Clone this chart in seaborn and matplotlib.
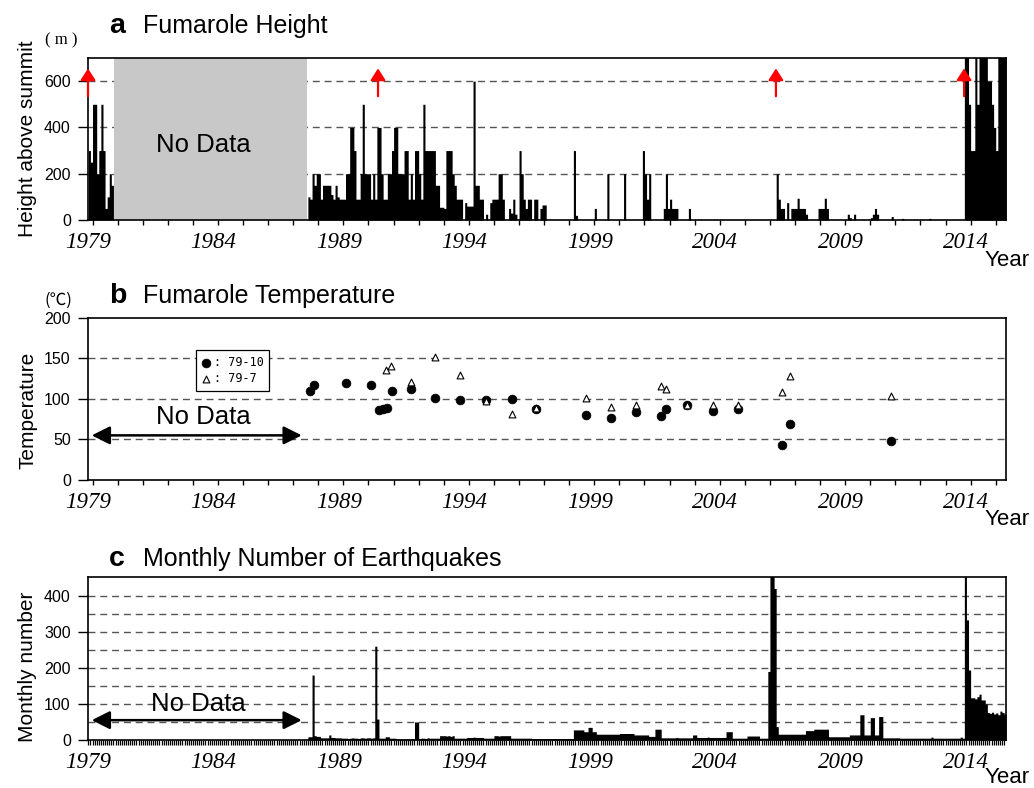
import numpy as np
import pandas as pd
import matplotlib
matplotlib.use("Agg")
import matplotlib.pyplot as plt
import seaborn as sns

# ---------------- data ----------------
# eruptions (decimal year) marked with red arrows in panel a
eruption_years = [1979.82, 1991.38, 2007.24, 2014.74]

# period without fumarole height observations (grey box)
gap_start, gap_end = 1980.86, 1988.55

# panel a : monthly max fumarole height above summit (m)
height_early_start = (1979, 11)          # Nov 1979 .. Oct 1980
height_early = [300, 250, 500, 500, 200, 300, 500, 300, 50, 100, 200, 150]

height_start = (1988, 8)                 # Aug 1988 .. May 2016
height_monthly = [
    100, 90, 200, 150, 200,                                       # 1988 Aug-Dec
    200, 90, 150, 150, 150, 150, 110, 90, 150, 100, 90, 90,       # 1989
    90, 200, 200, 400, 400, 300, 90, 90, 200, 500, 200, 200,      # 1990
    200, 90, 200, 90, 400, 400, 200, 90, 90, 200, 200, 300,       # 1991
    400, 400, 200, 200, 200, 300, 300, 90, 200, 90, 300, 300,     # 1992
    200, 90, 500, 300, 300, 300, 300, 300, 150, 150, 55, 55,      # 1993
    50, 300, 300, 300, 200, 150, 90, 90, 90, 0, 75, 60,           # 1994
    60, 60, 600, 150, 150, 90, 90, 0, 25, 0, 75, 90,              # 1995
    90, 90, 200, 200, 90, 0, 0, 50, 30, 90, 25, 0,                # 1996
    300, 200, 90, 50, 90, 90, 0, 90, 90, 0, 50, 65,               # 1997
    65, 0, 0, 0, 0, 0, 0, 0, 0, 0, 0, 0,                          # 1998
    0, 0, 300, 20, 0, 0, 0, 0, 0, 0, 0, 0,                        # 1999
    50, 0, 0, 0, 0, 0, 200, 0, 0, 0, 0, 0,                        # 2000
    0, 0, 200, 0, 0, 0, 0, 0, 0, 0, 0, 300,                       # 2001
    200, 90, 200, 0, 0, 0, 0, 0, 0, 50, 200, 50,                  # 2002
    90, 50, 50, 50, 0, 0, 0, 0, 0, 50, 0, 0,                      # 2003
    0, 0, 0, 0, 0, 0, 0, 0, 0, 0, 0, 0,                           # 2004
    0, 0, 0, 0, 0, 0, 0, 0, 0, 0, 0, 0,                           # 2005
    0, 0, 0, 0, 0, 0, 0, 0, 0, 0, 0, 0,                           # 2006
    0, 0, 0, 200, 90, 50, 50, 0, 75, 0, 50, 50,                   # 2007
    50, 94, 50, 50, 50, 25, 0, 0, 0, 0, 0, 50,                    # 2008
    50, 50, 94, 50, 0, 0, 0, 0, 0, 0, 0, 0,                       # 2009
    0, 25, 10, 0, 25, 0, 0, 0, 0, 0, 0, 0,                        # 2010
    10, 25, 50, 25, 0, 0, 0, 0, 0, 0, 15, 0,                      # 2011
    0, 0, 0, 7, 0, 0, 0, 0, 0, 0, 0, 0,                           # 2012
    0, 0, 0, 0, 7, 0, 0, 0, 0, 0, 0, 0,                           # 2013
    0, 0, 0, 0, 0, 0, 0, 0, 0, 800, 800, 500,                     # 2014
    300, 300, 800, 500, 800, 800, 800, 800, 600, 600, 500, 400,   # 2015
    300, 800, 800, 800, 800,                                      # 2016 Jan-May
]

# panel b : fumarole temperature (deg C)
temp_years_79_10 = [1988.67, 1988.83, 1990.09, 1991.10, 1991.43, 1991.59, 1991.75,
                    1991.94, 1992.69, 1993.65, 1994.66, 1995.68, 1996.71, 1997.66,
                    1999.67, 2000.65, 2001.67, 2002.65, 2002.85, 2003.69, 2004.73,
                    2005.73, 2007.48, 2007.80, 2011.82]
temp_79_10 = [110, 117, 120, 117, 86, 88, 89, 110, 112, 101, 99, 99, 100, 88,
              80, 76, 84, 79, 87, 93, 85, 88, 43, 69, 48]
temp_years_79_7 = [1991.69, 1991.90, 1992.69, 1993.64, 1994.65, 1995.68, 1996.71,
                   1997.66, 1999.67, 2000.65, 2001.67, 2002.65, 2002.85, 2003.69,
                   2004.73, 2005.73, 2007.48, 2007.80, 2011.82]
temp_79_7 = [135, 140, 121, 151, 129, 97, 81, 89, 101, 90, 93, 116, 112, 92,
             92, 93, 108, 128, 103]

# panel c : monthly number of earthquakes
quake_start = (1988, 8)                  # Aug 1988 .. May 2016
quake_monthly = [
    9, 9, 180, 12, 10,                                            # 1988 Aug-Dec
    10, 6, 6, 6, 6, 14, 7, 7, 6, 6, 6, 5,                         # 1989
    5, 5, 4, 5, 6, 5, 5, 4, 6, 6, 5, 6,                           # 1990
    6, 5, 6, 260, 58, 5, 5, 5, 9, 9, 5, 5,                        # 1991
    5, 3, 3, 3, 2, 3, 3, 3, 3, 3, 50, 50,                         # 1992
    4, 5, 5, 4, 6, 5, 5, 5, 5, 5, 12, 12,                         # 1993
    12, 11, 12, 10, 12, 5, 5, 5, 5, 5, 5, 7,                      # 1994
    7, 7, 8, 7, 7, 7, 7, 5, 5, 5, 5, 5,                           # 1995
    12, 12, 11, 12, 12, 12, 12, 12, 5, 5, 5, 5,                   # 1996
    5, 5, 5, 5, 5, 5, 4, 4, 4, 4, 4, 4,                           # 1997
    4, 4, 4, 4, 4, 4, 4, 4, 4, 4, 4, 4,                           # 1998
    4, 4, 28, 28, 28, 28, 28, 23, 23, 35, 35, 23,                 # 1999
    23, 16, 16, 16, 16, 16, 16, 16, 16, 16, 16, 16,               # 2000
    18, 18, 18, 18, 18, 18, 18, 14, 14, 14, 14, 14,               # 2001
    14, 14, 10, 10, 10, 30, 30, 30, 6, 6, 6, 6,                   # 2002
    6, 6, 6, 7, 6, 6, 6, 6, 6, 6, 6, 14,                          # 2003
    14, 7, 7, 7, 7, 7, 8, 7, 7, 7, 7, 7,                          # 2004
    7, 7, 7, 23, 23, 23, 5, 5, 5, 5, 5, 5,                        # 2005
    5, 11, 11, 11, 11, 11, 11, 5, 5, 5, 5, 190,                   # 2006
    460, 460, 420, 37, 16, 16, 16, 16, 16, 16, 16, 16,            # 2007
    16, 16, 16, 16, 16, 26, 26, 26, 26, 30, 30, 30,               # 2008
    30, 30, 30, 30, 9, 9, 9, 9, 9, 9, 9, 9,                       # 2009
    9, 9, 14, 14, 14, 14, 14, 70, 70, 14, 14, 14,                 # 2010
    62, 62, 14, 14, 65, 65, 6, 6, 6, 6, 6, 6,                     # 2011
    6, 6, 5, 5, 5, 5, 5, 5, 5, 5, 5, 5,                           # 2012
    5, 5, 5, 5, 5, 8, 5, 5, 5, 5, 5, 5,                           # 2013
    5, 5, 5, 5, 5, 5, 5, 8, 5, 460, 333, 194,                     # 2014
    117, 117, 114, 120, 127, 111, 111, 100, 76, 74, 77, 72,       # 2015
    75, 70, 80, 76, 72,                                           # 2016 Jan-May
]

label_years = [1979, 1984, 1989, 1994, 1999, 2004, 2009, 2014]
assert len(height_monthly) == 334 and len(quake_monthly) == 334


def monthly_frame(start, values, col):
    y, m = start
    first = y + (m - 1) / 12
    centers = first + (np.arange(len(values)) + 0.5) / 12
    return pd.DataFrame({"year": centers, col: values})


df_height = pd.concat([monthly_frame(height_early_start, height_early, "height"),
                       monthly_frame(height_start, height_monthly, "height")],
                      ignore_index=True)
df_quake = monthly_frame(quake_start, quake_monthly, "count")
df_t10 = pd.DataFrame({"year": temp_years_79_10, "temp": temp_79_10})
df_t7 = pd.DataFrame({"year": temp_years_79_7, "temp": temp_79_7})

# ---------------- style ----------------
sns.set_style("ticks")
plt.rcParams["font.family"] = ["Liberation Sans", "DejaVu Sans"]
plt.rcParams.update({"axes.linewidth": 1.2, "axes.edgecolor": "black",
                     "text.color": "black", "axes.labelcolor": "black",
                     "xtick.color": "black", "ytick.color": "black"})

W, H = 1034, 788
fig = plt.figure(figsize=(W / 100, H / 100), dpi=100)


def px_axes(left, top, right, bottom):
    return fig.add_axes([left / W, 1 - bottom / H, (right - left) / W, (bottom - top) / H])


ax_a = px_axes(87.5, 58, 1005.5, 220)
ax_b = px_axes(87.5, 317.7, 1005.5, 480)
ax_c = px_axes(87.5, 577.3, 1005.5, 740)

x_lo, x_hi = 1979.80, 2016.39
grid_kw = dict(color="#555555", lw=1.0, dashes=(5, 3.5), zorder=1)


def time_axis(ax, monthly=False):
    ax.set_xlim(x_lo, x_hi)
    ax.set_xticks([y + 0.82 for y in label_years])
    ax.set_xticklabels([str(y) for y in label_years], fontfamily="Liberation Serif",
                       fontstyle="italic", fontsize=16.5)
    ax.tick_params(axis="x", which="major", length=0, pad=8.5)
    if monthly:
        ax.set_xticks(np.arange(1979 * 12 + 10, 2016 * 12 + 5) / 12, minor=True)
        ax.tick_params(axis="x", which="minor", length=3.6, width=0.9, direction="out")
    else:
        ax.set_xticks(np.arange(1980, 2017), minor=True)
        ax.tick_params(axis="x", which="minor", length=3.8, width=1, direction="out")
    ax.tick_params(axis="y", length=7, width=1, pad=5, labelsize=11.5, direction="out")
    ax.set_xlabel("")
    for s in ax.spines.values():
        s.set_visible(True)
        s.set_color("black")
        s.set_linewidth(1.2)


# ---- panel a ----
bins_a = list(np.linspace(1979 + 10 / 12, 2016 + 5 / 12, 440))
sns.histplot(data=df_height, x="year", weights="height", bins=bins_a, element="step",
             fill=True, color="black", alpha=1, linewidth=0, ax=ax_a, zorder=3)
for v in [200, 400, 600]:
    ax_a.axhline(v, **grid_kw)
ax_a.axvspan(gap_start, gap_end, color="#c8c8c8", lw=0, zorder=2)
ax_a.text((gap_start + gap_end) / 2 - 0.3, 325, "No Data", ha="center", va="center",
          fontsize=18.5, zorder=4)
for yr in eruption_years:
    ax_a.annotate("", xy=(yr, 655), xytext=(yr, 535), annotation_clip=False,
                  arrowprops=dict(arrowstyle="-|>,head_length=0.7,head_width=0.45",
                                  color="red", lw=1.6, shrinkA=0, shrinkB=0), zorder=6)
ax_a.set_ylim(0, 700)
ax_a.set_yticks([0, 200, 400, 600])
time_axis(ax_a)
ax_a.set_ylabel("Height above summit", fontsize=15)
ax_a.yaxis.set_label_coords(-0.0545, 0.5)

# ---- panel b ----
for v in [50, 100, 150]:
    ax_b.axhline(v, **grid_kw)
sns.scatterplot(data=df_t10, x="year", y="temp", marker="o", color="black", s=40,
                edgecolor="black", linewidth=0.5, label=": 79-10", ax=ax_b, zorder=3)
sns.scatterplot(data=df_t7, x="year", y="temp", marker="^", color="white", s=24,
                edgecolor="black", linewidth=0.8, label=": 79-7", ax=ax_b, zorder=4)
ax_b.annotate("", xy=(1979.97, 55), xytext=(1988.34, 55),
              arrowprops=dict(arrowstyle="<|-|>,head_length=1.1,head_width=0.55",
                              color="black", lw=1.8, shrinkA=0, shrinkB=0))
ax_b.text(1984.42, 78, "No Data", ha="center", va="center", fontsize=18.5)
ax_b.set_ylim(0, 200)
ax_b.set_yticks([0, 50, 100, 150, 200])
time_axis(ax_b)
ax_b.set_ylabel("Temperature", fontsize=15)
ax_b.yaxis.set_label_coords(-0.0545, 0.43)
leg = ax_b.legend(loc="upper left", bbox_to_anchor=(0.118, 0.801), borderaxespad=0,
                  frameon=True, fancybox=False, edgecolor="black", framealpha=1,
                  prop={"family": "DejaVu Sans Mono", "size": 8.5},
                  handlelength=0.8, handletextpad=0.2, borderpad=0.5, labelspacing=0.25)
leg.get_frame().set_linewidth(0.9)

# ---- panel c ----
bins_c = list(np.linspace(1988 + 7 / 12, 2016 + 5 / 12, 335))
for v in range(50, 401, 50):
    ax_c.axhline(v, **grid_kw)
sns.histplot(data=df_quake, x="year", weights="count", bins=bins_c,
             element="step", fill=True, color="black", alpha=1, linewidth=0, ax=ax_c, zorder=3)
ax_c.annotate("", xy=(1979.97, 55), xytext=(1988.34, 55),
              arrowprops=dict(arrowstyle="<|-|>,head_length=1.1,head_width=0.55",
                              color="black", lw=1.8, shrinkA=0, shrinkB=0))
ax_c.text(1984.2, 99, "No Data", ha="center", va="center", fontsize=18.5)
ax_c.set_ylim(0, 451)
ax_c.set_yticks([0, 100, 200, 300, 400])
time_axis(ax_c, monthly=True)
ax_c.set_ylabel("Monthly number", fontsize=15)
ax_c.yaxis.set_label_coords(-0.0545, 0.45)

# ---- titles and units ----
for letter, title, base in [("a", "Fumarole Height", 33), ("b", "Fumarole Temperature", 303),
                            ("c", "Monthly Number of Earthquakes", 566)]:
    fig.text(109 / W, 1 - base / H, letter, fontsize=20.5, fontweight="bold", va="baseline")
    fig.text(143 / W, 1 - base / H, title, fontsize=18, va="baseline")

for base in [266, 525, 783]:
    fig.text(985 / W, 1 - base / H, "Year", fontsize=16, va="baseline")

fig.text(45 / W, 1 - 40 / H, "( m )", family="Liberation Serif", fontsize=12, va="center")
fig.text(45 / W, 1 - 300 / H, "(℃)", family=["Noto Sans CJK JP", "DejaVu Sans"],
         fontsize=12, va="center")

fig.savefig("out.png", dpi=100)
